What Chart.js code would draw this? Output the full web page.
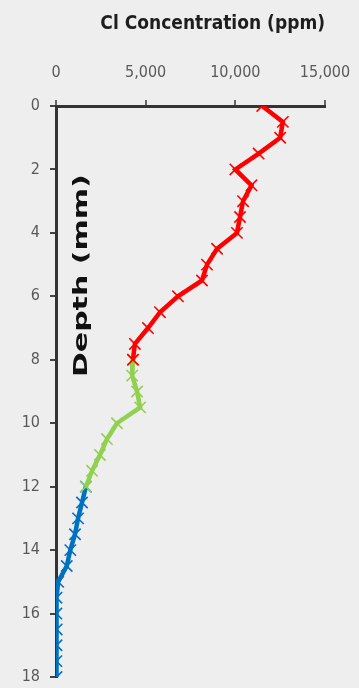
<!DOCTYPE html>
<html>
<head>
<meta charset="utf-8">
<script src="https://cdn.jsdelivr.net/npm/chart.js@4/dist/chart.umd.min.js"></script>
<style>
  html, body { margin: 0; padding: 0; background: #eeeeee; }
  #wrap { position: relative; width: 359px; height: 688px; }
</style>
</head>
<body>
<div id="wrap"><canvas id="profile" width="359" height="688"></canvas></div>
<script>
// Cl concentration profile vs depth, three zones
var depthRed   = [0, 0.5, 1, 1.5, 2, 2.5, 3, 3.5, 4, 4.5, 5, 5.5, 6, 6.5, 7, 7.5, 8];
var clRed      = [11500, 12650, 12500, 11300, 10000, 10900, 10430, 10260, 10090, 8980, 8420, 8140, 6800, 5800, 5130, 4400, 4290];
var depthGreen = [8, 8.5, 9, 9.5, 10, 10.5, 11, 11.5, 12];
var clGreen    = [4290, 4250, 4520, 4690, 3400, 2840, 2450, 2010, 1670];
var depthBlue  = [12, 12.5, 13, 13.5, 14, 14.5, 15, 15.5, 16, 16.5, 17, 17.5, 18];
var clBlue     = [1670, 1450, 1230, 1060, 800, 600, 120, 30, 20, 40, 30, 20, 30];
var xTicks     = [0, 5000, 10000, 15000];
var yTicks     = [0, 2, 4, 6, 8, 10, 12, 14, 16, 18];

var xTitle = 'Cl Concentration (ppm)';
var yTitle = 'Depth (mm)';

function toPoints(depths, values) {
  return depths.map(function (d, i) { return { x: values[i], y: d }; });
}

function series(depths, values, color) {
  return {
    data: toPoints(depths, values),
    showLine: true,
    borderColor: color,
    backgroundColor: color,
    borderWidth: 4.5,
    tension: 0,
    pointStyle: 'crossRot',
    pointRadius: 8,
    pointBorderWidth: 1.6,
    pointBorderColor: color,
  };
}

var TICK_FONT = { family: "'DejaVu Sans Condensed', 'DejaVu Sans', sans-serif", size: 16 };
var AXIS = '#333333';

// draws the rotated depth title inside the plot, like the original
var depthTitle = {
  id: 'depthTitle',
  afterDraw: function (chart) {
    var ctx = chart.ctx;
    var area = chart.chartArea;
    var cy = chart.scales.y.getPixelForValue(5.35);
    ctx.save();
    ctx.translate(area.left + 26, cy);
    ctx.rotate(-Math.PI / 2);
    ctx.scale(1.5, 1);
    ctx.font = "bold 20px 'DejaVu Sans', sans-serif";
    ctx.fillStyle = '#111111';
    ctx.textAlign = 'center';
    ctx.textBaseline = 'middle';
    ctx.fillText(yTitle, 0, 0);
    ctx.restore();
  }
};

new Chart(document.getElementById('profile'), {
  type: 'scatter',
  data: {
    datasets: [
      series(depthRed, clRed, '#ff0000'),
      series(depthGreen, clGreen, '#92d050'),
      series(depthBlue, clBlue, '#0070c0'),
    ],
  },
  options: {
    responsive: false,
    animation: false,
    layout: { padding: { left: 0, right: 34, top: 0, bottom: 11 } },
    plugins: {
      legend: { display: false },
      tooltip: { enabled: false },
    },
    scales: {
      x: {
        type: 'linear',
        position: 'top',
        min: xTicks[0],
        max: xTicks[xTicks.length - 1],
        afterBuildTicks: function (scale) {
          scale.ticks = xTicks.map(function (v) { return { value: v }; });
        },
        afterFit: function (scale) {
          scale.height = 106;
          scale.paddingLeft = 0;
          scale.paddingRight = 0;
        },
        ticks: {
          color: '#595959',
          font: TICK_FONT,
          padding: 18,
          maxRotation: 0,
          autoSkip: false,
          callback: function (v) { return Number(v).toLocaleString('en-US'); },
        },
        grid: { drawOnChartArea: false, drawTicks: true, tickLength: 6, color: '#666666', lineWidth: 2 },
        border: { display: true, color: AXIS, width: 3 },
        title: {
          display: true,
          text: xTitle,
          align: 'end',
          color: '#1e1e1e',
          font: { family: "'DejaVu Sans Condensed', 'DejaVu Sans', sans-serif", size: 19, weight: 'bold' },
          padding: { top: 13, bottom: 0 },
        },
      },
      y: {
        type: 'linear',
        reverse: true,
        min: yTicks[0],
        max: yTicks[yTicks.length - 1],
        afterBuildTicks: function (scale) {
          scale.ticks = yTicks.map(function (v) { return { value: v }; });
        },
        afterFit: function (scale) {
          scale.width = 56;
          scale.paddingTop = 0;
          scale.paddingBottom = 0;
        },
        ticks: {
          color: '#595959',
          font: TICK_FONT,
          padding: 10,
          autoSkip: false,
        },
        grid: { drawOnChartArea: false, drawTicks: true, tickLength: 6, color: '#444444', lineWidth: 2 },
        border: { display: true, color: AXIS, width: 3 },
      },
    },
  },
  plugins: [depthTitle],
});
</script>
</body>
</html>
